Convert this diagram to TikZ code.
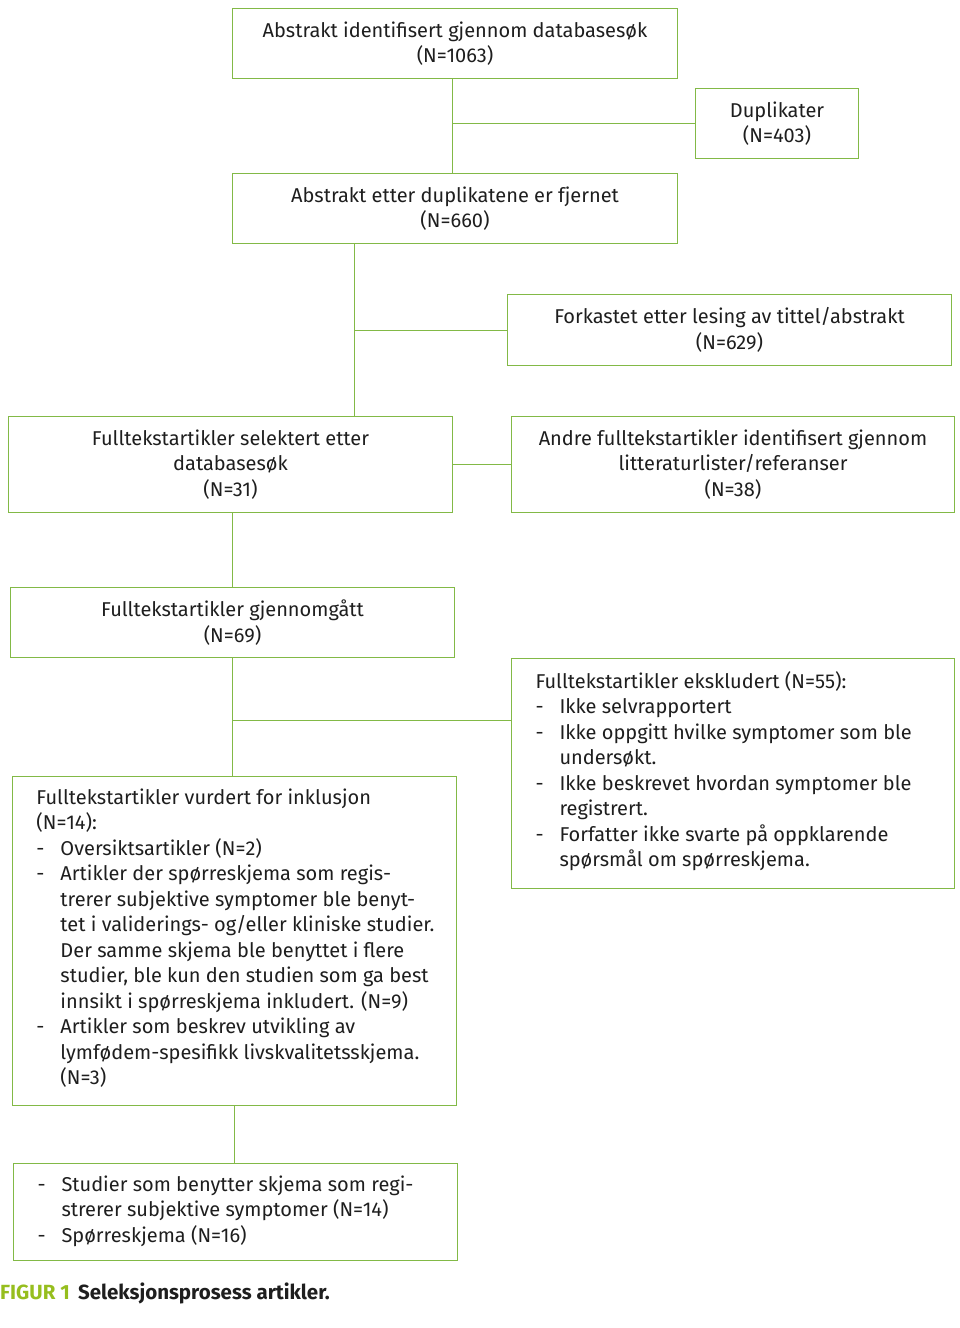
\documentclass[tikz,border=0pt]{standalone}
\usepackage{fontspec}
\setmainfont{Fira Sans}[Scale=1]
\definecolor{bx}{RGB}{130,185,70}
\definecolor{fig}{RGB}{150,190,30}
\definecolor{tx}{RGB}{30,30,30}
\newcommand{\itm}[1]{\par\hangindent=24pt\hangafter=1\noindent\makebox[24pt][l]{-}#1}
\begin{document}
\begin{tikzpicture}[x=1pt,y=-1pt,
  box/.style={draw=bx,line width=1pt,anchor=north west,inner sep=0pt,text=tx,
    font=\fontsize{20}{25.5}\selectfont,align=center},
  lbox/.style={box,align=left},
  ln/.style={draw=bx,line width=1pt}]
\useasboundingbox (0,0) rectangle (960,1328);
\node[box,minimum width=445,minimum height=70] (b1) at (232,8) {Abstrakt identifisert gjennom databasesøk\\(N=1063)};
\node[box,minimum width=163,minimum height=70] (dup) at (695,88) {Duplikater\\(N=403)};
\node[box,minimum width=445,minimum height=70] (b2) at (232,173) {Abstrakt etter duplikatene er fjernet\\(N=660)};
\node[box,minimum width=444,minimum height=71] (fk) at (507,294) {Forkastet etter lesing av tittel/abstrakt\\(N=629)};
\node[box,minimum width=444,minimum height=96] (b3) at (8,416) {Fulltekstartikler selektert etter\\databasesøk\\(N=31)};
\node[box,minimum width=443,minimum height=96] (an) at (511,416) {Andre fulltekstartikler identifisert gjennom\\litteraturlister/referanser\\(N=38)};
\node[box,minimum width=444,minimum height=70] (b4) at (10,587) {Fulltekstartikler gjennomgått\\(N=69)};
\node[lbox,minimum width=443,minimum height=230] (ek) at (511,658) {\begin{minipage}[t][230pt][t]{443pt}\vspace{13pt}\leftskip=24pt\rightskip=10pt plus 1fil
\noindent Fulltekstartikler ekskludert (N=55):
\itm{Ikke selvrapportert}
\itm{Ikke oppgitt hvilke symptomer som ble\\undersøkt.}
\itm{Ikke beskrevet hvordan symptomer ble\\registrert.}
\itm{Forfatter ikke svarte på oppklarende\\spørsmål om spørreskjema.}
\end{minipage}};
\node[lbox,minimum width=444,minimum height=329] (b5) at (12,776) {\begin{minipage}[t][329pt][t]{444pt}\vspace{12pt}\leftskip=24pt\rightskip=6pt plus 1fil
\noindent Fulltekstartikler vurdert for inklusjon\\(N=14):
\itm{Oversiktsartikler (N=2)}
\itm{Artikler der spørreskjema som regis-\\trerer subjektive symptomer ble benyt-\\tet i validerings- og/eller kliniske studier.\\Der samme skjema ble benyttet i flere\\studier, ble kun den studien som ga best\\innsikt i spørreskjema inkludert. (N=9)}
\itm{Artikler som beskrev utvikling av\\lymfødem-spesifikk livskvalitetsskjema.\\(N=3)}
\end{minipage}};
\node[lbox,minimum width=444,minimum height=97] (b6) at (13,1163) {\begin{minipage}[t][97pt][t]{444pt}\vspace{12pt}\leftskip=24pt\rightskip=10pt plus 1fil
\itm{Studier som benytter skjema som regi-\\strerer subjektive symptomer (N=14)}
\itm{Spørreskjema (N=16)}
\end{minipage}};
\node[anchor=north west,inner sep=0pt,font=\fontsize{20.5}{24}\selectfont\bfseries] (cap) at (0,1283) {\textcolor{fig}{FIGUR 1}\ \,\textcolor{tx}{Seleksjonsprosess artikler.}};
\draw[ln] ([xshift=220pt]b1.south west) -- ([xshift=220pt]b2.north west);
\draw[ln] (dup.west) -- ([xshift=220pt]b1.south west |- dup.west);
\draw[ln] ([xshift=122pt]b2.south west) -- ([xshift=122pt]b2.south west |- b3.north);
\draw[ln] (fk.west) -- ([xshift=122pt]b2.south west |- fk.west);
\draw[ln] (b3.east) -- (an.west);
\draw[ln] ([xshift=224pt]b3.south west) -- ([xshift=224pt]b3.south west |- b4.north);
\draw[ln] (b4.south) -- (b4.south |- b5.north);
\coordinate (j) at ([yshift=-62pt]b4.south);
\draw[ln] (j) -- (j -| ek.west);
\draw[ln] (b5.south) -- (b5.south |- b6.north);
\end{tikzpicture}
\end{document}
